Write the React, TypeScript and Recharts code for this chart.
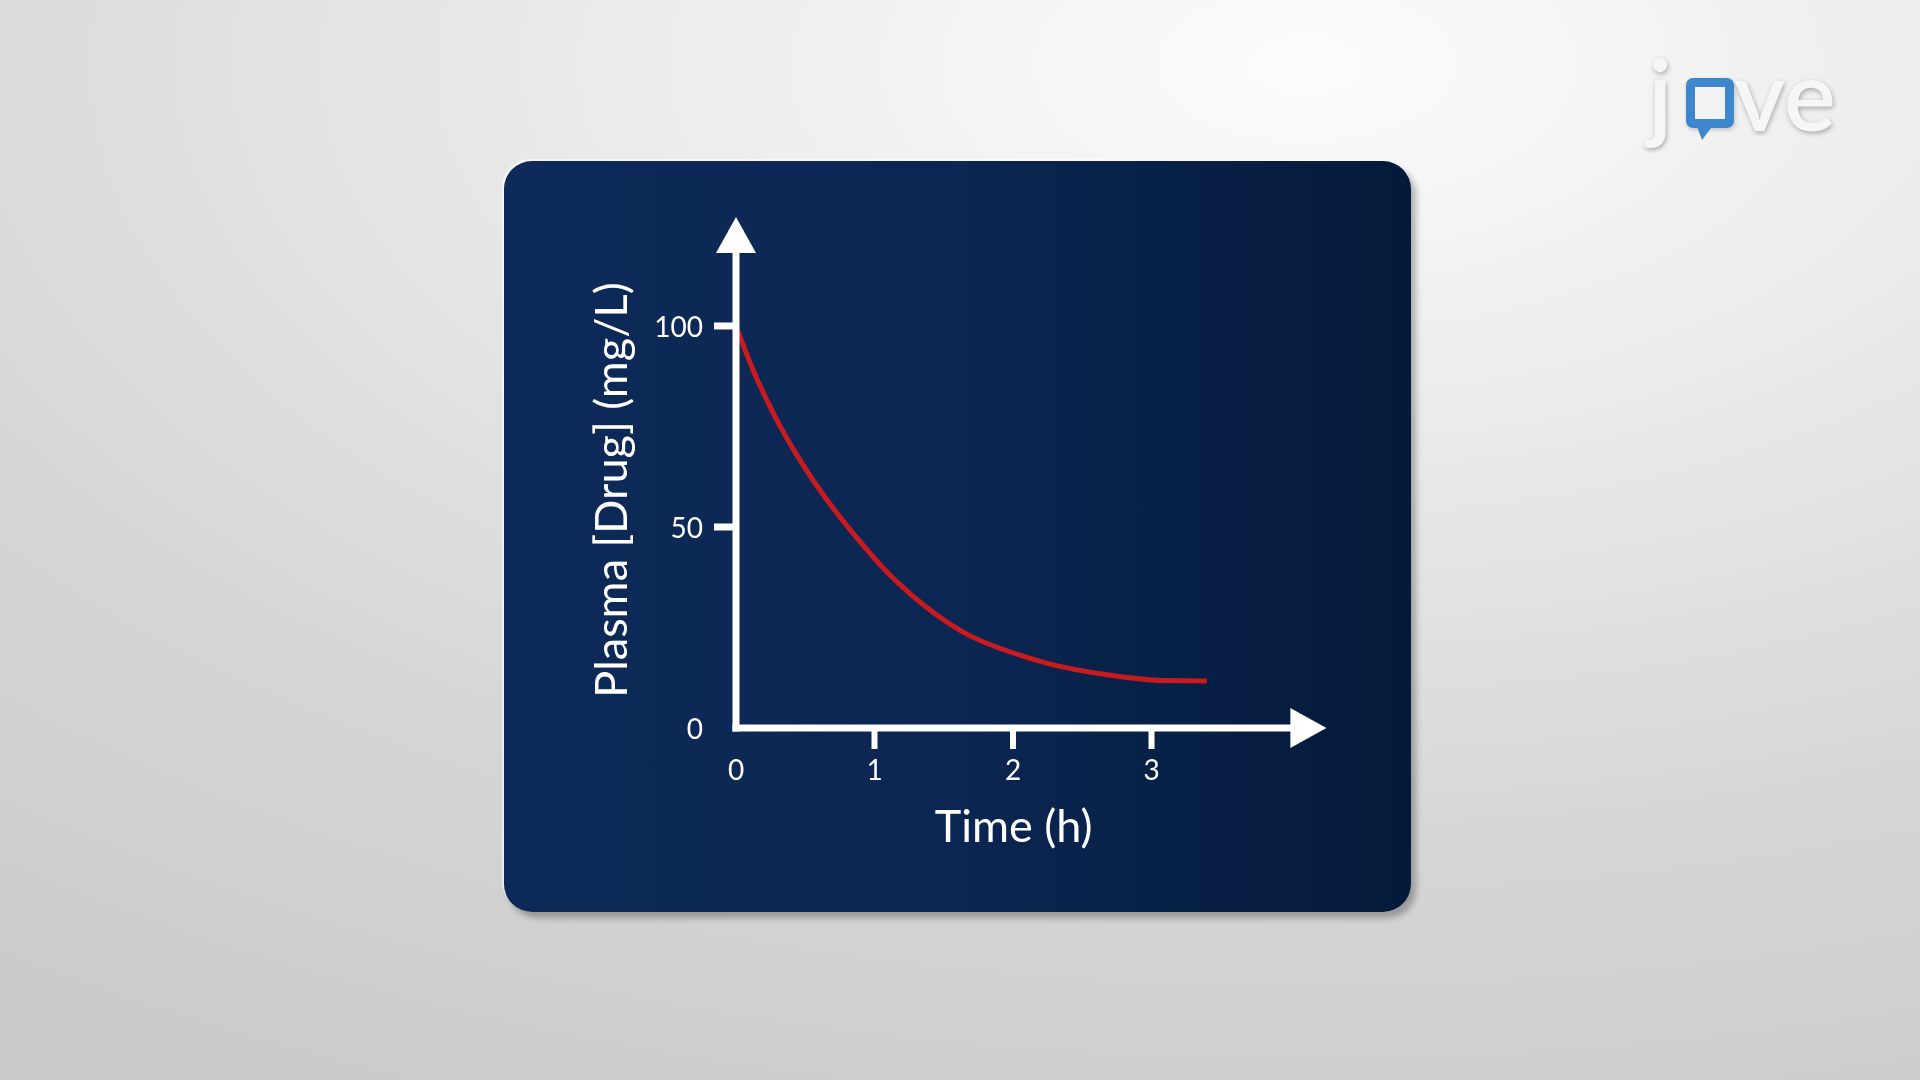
import { Line, LineChart, ReferenceDot, XAxis, YAxis } from 'recharts';

// plasma concentration after one IV dose
const timeH = [0, 0.12, 0.28, 0.5, 0.66, 0.87, 1.09, 1.26, 1.43, 1.68, 1.94, 2.27, 2.69, 3.08, 3.4];
const plasmaMgL = [100, 89.3, 77.6, 64.6, 56.6, 47.4, 38.8, 33.3, 28.6, 23.1, 19.4, 15.9, 13.2, 11.8, 11.7];

const xTicks = [0, 1, 2, 3];
const yTicks = [0, 50, 100];
const xMax = 4.01;
const yMax = 118.4;

const series = timeH.map((t, i) => ({ t, c: plasmaMgL[i] }));

const WHITE = '#ffffff';
const FONT = 'Lato, "Open Sans", sans-serif';
const TICK_LEN_Y = 22;
const TICK_GAP_Y = 11;
const TICK_LEN_X = 21;
const TICK_GAP_X = 20;

function YTick(props: any) {
  const { x, y, payload } = props;
  const lineX = x + TICK_GAP_Y;
  return (
    <g>
      {payload.value !== 0 && (
        <line x1={lineX} x2={lineX + TICK_LEN_Y} y1={y} y2={y} stroke={WHITE} strokeWidth={7} />
      )}
      <text x={x} y={y} textAnchor="end" dominantBaseline="central" fill={WHITE} fontSize={28} fontFamily={FONT}>
        {payload.value}
      </text>
    </g>
  );
}

function XTick(props: any) {
  const { x, y, payload } = props;
  const lineY = y - TICK_GAP_X - TICK_LEN_X;
  return (
    <g>
      {payload.value !== 0 && (
        <line x1={x} x2={x} y1={lineY} y2={lineY + TICK_LEN_X} stroke={WHITE} strokeWidth={6} />
      )}
      <text x={x} y={y} textAnchor="middle" dominantBaseline="central" fill={WHITE} fontSize={28} fontFamily={FONT}>
        {payload.value}
      </text>
    </g>
  );
}

function ArrowRight(props: any) {
  const { cx, cy } = props;
  return <polygon points={`${cx - 1},${cy - 20} ${cx + 35},${cy} ${cx - 1},${cy + 20}`} fill={WHITE} />;
}

function ArrowUp(props: any) {
  const { cx, cy } = props;
  return <polygon points={`${cx - 20},${cy + 1} ${cx},${cy - 35} ${cx + 20},${cy + 1}`} fill={WHITE} />;
}

function YTitle(props: any) {
  const { viewBox } = props;
  const x = viewBox.x + 24;
  const y = viewBox.y + viewBox.height / 2;
  return (
    <text
      x={x}
      y={y}
      transform={`rotate(-90 ${x} ${y})`}
      textAnchor="middle"
      dominantBaseline="central"
      fill={WHITE}
      fontSize={45}
      fontFamily={FONT}
    >
      Plasma [Drug] (mg/L)
    </text>
  );
}

function XTitle(props: any) {
  const { viewBox } = props;
  return (
    <text
      x={viewBox.x + viewBox.width / 2}
      y={viewBox.y + 97}
      textAnchor="middle"
      dominantBaseline="central"
      fill={WHITE}
      fontSize={45}
      fontFamily={FONT}
    >
      Time (h)
    </text>
  );
}

function Logo() {
  const letter: React.CSSProperties = {
    position: 'absolute',
    fontFamily: FONT,
    fontSize: 98,
    fontWeight: 600,
    lineHeight: '98px',
    color: '#f6f6f6',
    textShadow: '1px 2px 5px rgba(0,0,0,0.3)',
  };
  return (
    <div style={{ position: 'absolute', left: 1640, top: 40, width: 210, height: 120 }}>
      <span style={{ ...letter, left: 8, top: 4 }}>j</span>
      <div
        style={{
          position: 'absolute',
          left: 46,
          top: 38,
          width: 30,
          height: 32,
          border: '9px solid #3d87cf',
          borderRadius: 7,
          boxShadow: '1px 2px 4px rgba(0,0,0,0.2)',
        }}
      />
      <div
        style={{
          position: 'absolute',
          left: 56,
          top: 84,
          width: 0,
          height: 0,
          borderLeft: '6px solid transparent',
          borderRight: '12px solid transparent',
          borderTop: '16px solid #3d87cf',
        }}
      />
      <span style={{ ...letter, left: 94, top: 4 }}>ve</span>
    </div>
  );
}

export default function App() {
  return (
    <div
      style={{
        position: 'fixed',
        left: 0,
        top: 0,
        width: 1920,
        height: 1080,
        overflow: 'hidden',
        background:
          'radial-gradient(ellipse 120% 110% at 68% 6%, #fcfcfc 0%, #ebebeb 30%, #d6d6d6 65%, #c9c9c9 100%)',
      }}
    >
      <div
        style={{
          position: 'absolute',
          left: 504,
          top: 161,
          width: 907,
          height: 751,
          borderRadius: 28,
          background: 'linear-gradient(90deg, #0e2a58 0%, #0b2652 50%, #041a3a 100%)',
          boxShadow: '-2px -2px 0 rgba(255,255,255,0.6), 5px 6px 6px rgba(0,0,0,0.28)',
        }}
      />
      <Logo />
      <div style={{ position: 'absolute', left: 0, top: 0 }}>
        <LineChart
          width={1920}
          height={1080}
          data={series}
          margin={{ top: 252, right: 628.6, bottom: 222, left: 586 }}
        >
          <XAxis
            dataKey="t"
            type="number"
            domain={[0, xMax]}
            ticks={xTicks}
            allowDataOverflow
            height={130}
            axisLine={{ stroke: WHITE, strokeWidth: 7, strokeLinecap: 'square' }}
            tickLine={false}
            tickSize={TICK_LEN_X}
            tickMargin={TICK_GAP_X}
            tick={<XTick />}
            label={<XTitle />}
          />
          <YAxis
            dataKey="c"
            type="number"
            domain={[0, yMax]}
            ticks={yTicks}
            allowDataOverflow
            width={150}
            axisLine={{ stroke: WHITE, strokeWidth: 7, strokeLinecap: 'square' }}
            tickLine={false}
            tickSize={TICK_LEN_Y}
            tickMargin={TICK_GAP_Y}
            tick={<YTick />}
            label={<YTitle />}
          />
          <Line
            type="monotone"
            dataKey="c"
            stroke="#c81b1f"
            strokeWidth={5}
            dot={false}
            activeDot={false}
            isAnimationActive={false}
          />
          <ReferenceDot x={xMax} y={0} r={0} shape={<ArrowRight />} ifOverflow="visible" />
          <ReferenceDot x={0} y={yMax} r={0} shape={<ArrowUp />} ifOverflow="visible" />
        </LineChart>
      </div>
    </div>
  );
}
